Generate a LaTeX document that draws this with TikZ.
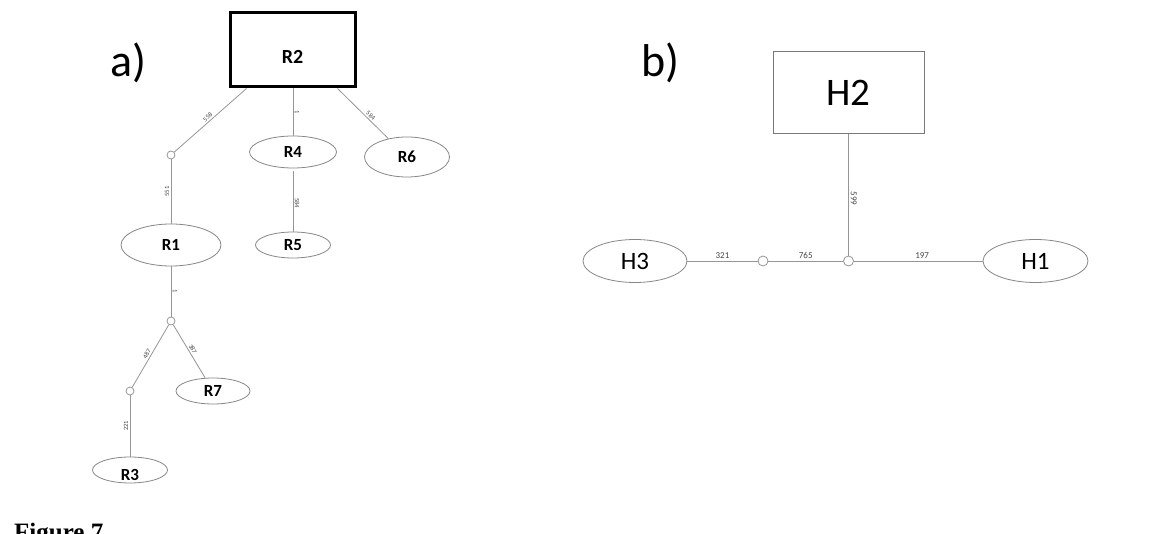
\documentclass[tikz,border=0pt]{standalone}
\usepackage{fontspec}
\setmainfont{Carlito}
\newfontfamily\figfont{Liberation Serif}
\usetikzlibrary{shapes.geometric,calc}
\definecolor{edgegray}{RGB}{150,150,150}
\definecolor{labgray}{RGB}{70,70,70}
\begin{document}
\begin{tikzpicture}[x=1pt,y=-1pt,
  edge/.style={draw=edgegray, line width=0.8pt},
  ell/.style={ellipse, draw=edgegray!90!black, line width=0.8pt, inner sep=0pt, fill=white},
  rlab/.style={font=\bfseries\fontsize{17}{17}\selectfont},
  hlab/.style={font=\fontsize{25}{25}\selectfont},
  knot/.style={circle, draw=edgegray, fill=white, inner sep=0pt, minimum size=8pt, line width=0.8pt},
  bigknot/.style={knot, minimum size=10pt},
  elab/.style={font=\fontsize{6.5}{6.5}\selectfont, text=labgray, inner sep=1.5pt},
  hel/.style={font=\fontsize{9}{9}\selectfont, text=labgray, inner sep=2pt},
  panel/.style={font=\fontsize{46}{46}\selectfont, anchor=base west, inner sep=0pt}]
\useasboundingbox (0,0) rectangle (1164,534);
\fill[white] (0,0) rectangle (1164,534);

% panel labels
\node[panel] (la) at (110,77) {a)};
\node[panel] (lb) at (641,77) {b)};

% ---- panel a ----
\node[draw=black, line width=3pt, minimum width=125pt, minimum height=74pt, inner sep=0pt,
      font=\bfseries\fontsize{20}{20}\selectfont] (R2) at (292.5,50) {\raisebox{-13.5pt}[0pt][0pt]{R2}};
\node[ell, rlab, minimum width=87pt, minimum height=32pt] (R4) at (293,152) {R4};
\node[ell, rlab, minimum width=85pt, minimum height=40pt] (R6) at (407,157) {R6};
\node[ell, rlab, minimum width=75pt, minimum height=26pt] (R5) at (293,245) {R5};
\node[knot] (c1) at (171,155) {};
\node[ell, rlab, minimum width=100pt, minimum height=42pt] (R1) at (171,245) {R1};
\node[knot] (c2) at (171,321) {};
\node[knot] (c3) at (130,391) {};
\node[ell, rlab, minimum width=74pt, minimum height=26pt] (R7) at (213,391) {R7};
\node[ell, rlab, minimum width=75pt, minimum height=26pt] (R3) at (130,470) {\raisebox{-10.5pt}[0pt][0pt]{R3}};

\coordinate (r2l) at ($(R2.south west)+(18,0)$);
\coordinate (r2r) at ($(R2.south east)+(-19,0)$);

\draw[edge] (c1) -- node[elab, rotate=41, anchor=south] {558} (r2l);
\draw[edge] (R2.south -| R4.north) -- node[elab, rotate=-90, anchor=south] {1} (R4.north);
\draw[edge] (r2r) -- node[elab, pos=0.6, rotate=-41, anchor=south] {584} (R6);
\draw[edge, shorten <=3pt] (R4.south) -- node[elab, pos=0.55, rotate=-90, anchor=south] {584} (R5.north);
\draw[edge] (R1.north) -- node[elab, rotate=90, anchor=south] {551} (c1);
\draw[edge] (R1.south) -- node[elab, rotate=-90, anchor=south] {1} (c2);
\draw[edge] (c3) -- node[elab, rotate=60, anchor=south] {487} (c2);
\draw[edge] (c2) -- node[elab, rotate=-59, anchor=south] {387} (R7);
\draw[edge] (R3.north) -- node[elab, rotate=90, anchor=south] {221} (c3);

% ---- panel b ----
\node[draw=edgegray!80!black, line width=1pt, minimum width=151pt, minimum height=82pt, inner sep=0pt,
      font=\fontsize{39}{39}\selectfont] (H2) at (848.5,93) {H2};
\node[ell, hlab, minimum width=104pt, minimum height=43pt] (H3) at (635,261) {H3};
\node[ell, hlab, minimum width=105pt, minimum height=43pt] (H1) at (1035.5,261) {H1};
\node[bigknot] (d1) at (763,261) {};
\node[bigknot] (d2) at (848.5,261) {};

\draw[edge] (H3) -- node[hel, anchor=south] {321} (d1);
\draw[edge] (d1) -- node[hel, anchor=south] {765} (d2);
\draw[edge] (d2) -- node[hel, pos=0.53, anchor=south] {197} (H1);
\draw[edge] (H2.south) -- node[hel, pos=0.53, rotate=-90, anchor=south] {599} (d2);

% caption (cut off at the bottom edge)
\node[font=\figfont\bfseries\fontsize{25}{25}\selectfont, anchor=base west, inner sep=0pt] (fig) at (14,540) {Figure 7};
\end{tikzpicture}
\end{document}
